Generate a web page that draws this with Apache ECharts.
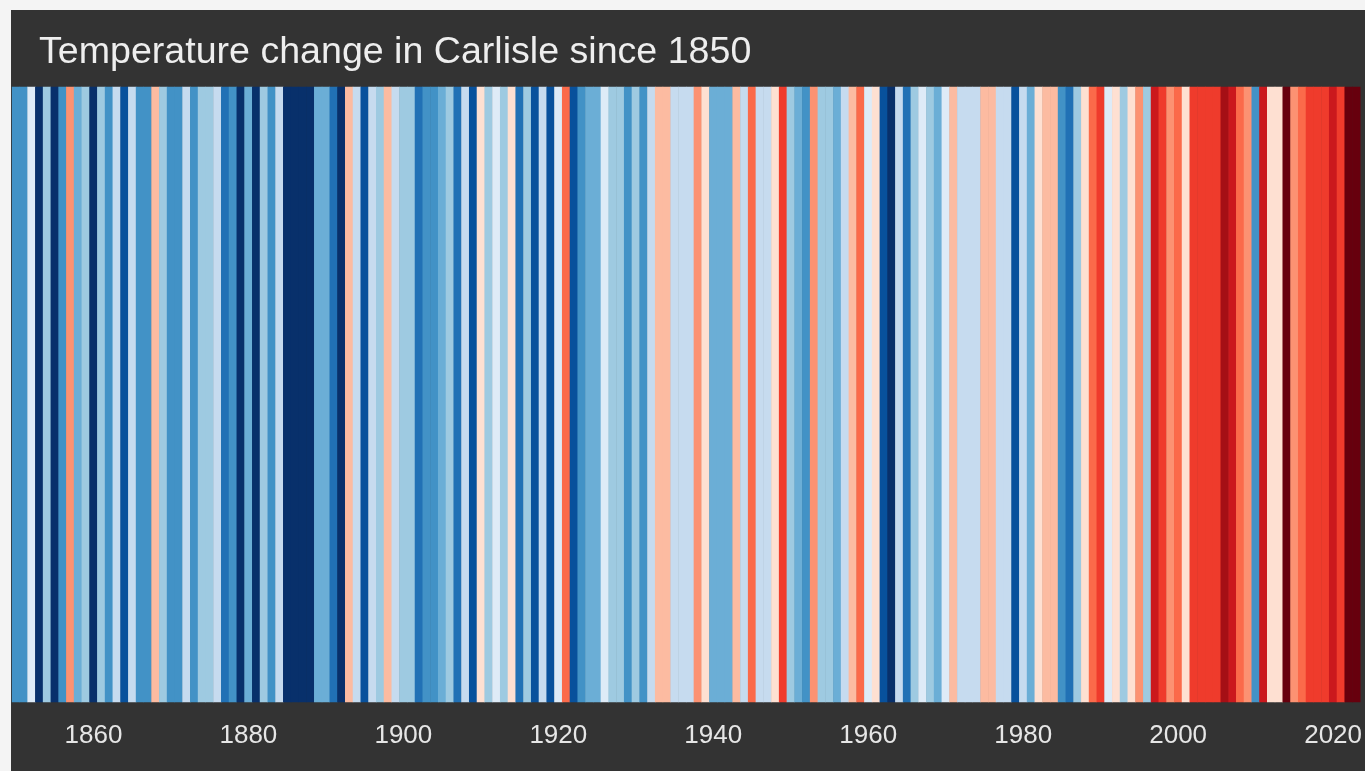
<!DOCTYPE html>
<html>
<head>
<meta charset="utf-8">
<script src="https://cdn.jsdelivr.net/npm/echarts@6/dist/echarts.min.js"></script>
<style>
  html, body { margin: 0; padding: 0; background: #f4f4f4; width: 1365px; height: 771px; overflow: hidden; }
  #chart { position: absolute; left: 11px; top: 10px; width: 1354px; height: 761px; }
</style>
</head>
<body>
<div id="chart"></div>
<script>
// Title
const titleText = 'Temperature change in Carlisle since 1850';

// First year of the record
const firstYear = 1850;

const anom1850s_1890s = [
  -0.9, -0.9, -0.1, -1.5, -0.5, -1.5, -0.9, 0.5, -0.7, -0.5,
  -1.5, -0.5, -0.9, -0.3, -1.3, -0.3, -0.9, -0.9, 0.3, -0.5,
  -0.9, -0.9, -0.3, -0.9, -0.5, -0.5, -0.3, -1.1, -0.9, -1.5,
  -0.7, -1.5, -0.5, -0.9, -0.3, -1.5, -1.5, -1.5, -1.5, -0.7,
  -0.7, -1.1, -1.5, 0.3, -0.3, -1.3, -0.3, -0.5, 0.3, -0.3
];
const anom1900s_1940s = [
  -0.5, -0.5, -1.1, -0.9, -0.9, -0.7, -0.5, -1.1, -0.3, -1.3,
  0.1, -0.5, -0.1, -0.5, 0.1, -1.1, -0.5, -1.3, -0.3, -1.3,
  -0.1, 0.7, -1.3, -0.9, -0.7, -0.7, -0.1, -0.5, -0.5, -0.9,
  -0.5, -0.9, -0.3, 0.3, 0.3, -0.3, -0.3, -0.3, 0.5, 0.1,
  -0.7, -0.7, -0.7, 0.3, -0.3, 0.7, -0.3, -0.3, 0.1, 0.9
];
const anom1950s_1990s = [
  -0.5, -0.7, -0.9, 0.5, -0.5, -0.5, -0.7, -0.3, 0.3, 0.7,
  -0.1, 0.1, -1.3, -1.5, -0.3, -1.1, -0.5, -0.1, -0.5, -0.7,
  -0.1, 0.3, -0.3, -0.3, -0.3, 0.3, 0.3, -0.3, -0.3, -1.3,
  -0.3, -0.7, 0.1, 0.3, 0.3, -0.9, -1.1, -0.5, 0.1, 0.7,
  0.9, -0.1, 0.1, -0.5, 0.1, 0.5, -0.5, 1.1, 0.9, 0.5
];
const anom2000s_2020s = [
  0.7, 0.1, 0.9, 0.9, 0.9, 0.9, 1.3, 1.1, 0.7, 0.5,
  -0.9, 1.1, 0.1, 0.1, 1.5, 0.5, 0.7, 0.9, 0.9, 0.9,
  1.1, 0.9, 1.5, 1.5
];

// Tick labels shown on the axis
const tickLabels = ['1860', '1880', '1900', '1920', '1940', '1960', '1980', '2000', '2020'];

// Stripe colour scale (cold -> warm) and bin edges
const stripeColors = [
  '#08306b', '#08519c', '#2171b5', '#4292c6', '#6baed6', '#9ecae1', '#c6dbef', '#deebf7',
  '#fee0d2', '#fcbba1', '#fc9272', '#fb6a4a', '#ef3b2c', '#cb181d', '#a50f15', '#67000d'
];
const binEdges = [-1.6, -1.4, -1.2, -1.0, -0.8, -0.6, -0.4, -0.2, 0, 0.2, 0.4, 0.6, 0.8, 1.0, 1.2, 1.4, 1.6];

const anomalies = [].concat(anom1850s_1890s, anom1900s_1940s, anom1950s_1990s, anom2000s_2020s);
const years = anomalies.map((_, i) => String(firstYear + i));
const heatData = anomalies.map((v, i) => [i, 0, v]);

const pieces = stripeColors.map((c, i) => ({
  gte: i === 0 ? -100 : binEdges[i],
  lt: i === stripeColors.length - 1 ? 100 : binEdges[i + 1],
  color: c
}));

const stripePx = 7.804;
const chart = echarts.init(document.getElementById('chart'), null, { renderer: 'canvas' });
chart.setOption({
  backgroundColor: '#333333',
  animation: false,
  title: {
    text: titleText,
    left: 28,
    top: 24,
    padding: 0,
    textStyle: {
      color: '#eeeeee',
      fontSize: 37.6,
      fontWeight: 'normal',
      fontFamily: '"Liberation Sans", Arial, sans-serif'
    }
  },
  grid: {
    left: 1.1,
    top: 77,
    bottom: 69,
    width: stripePx * years.length
  },
  xAxis: {
    type: 'category',
    data: years,
    boundaryGap: true,
    axisLine: { show: false },
    axisTick: { show: false },
    splitLine: { show: false },
    axisLabel: {
      color: '#e6e6e6',
      fontSize: 26,
      fontFamily: '"Liberation Sans", Arial, sans-serif',
      margin: 21,
      interval: (idx, val) => tickLabels.indexOf(val) >= 0
    }
  },
  yAxis: {
    type: 'category',
    data: [''],
    show: false
  },
  visualMap: {
    type: 'piecewise',
    show: false,
    dimension: 2,
    pieces: pieces
  },
  series: [{
    type: 'heatmap',
    data: heatData,
    progressive: 0,
    itemStyle: { borderWidth: 0 },
    emphasis: { disabled: true }
  }]
});
</script>
</body>
</html>
